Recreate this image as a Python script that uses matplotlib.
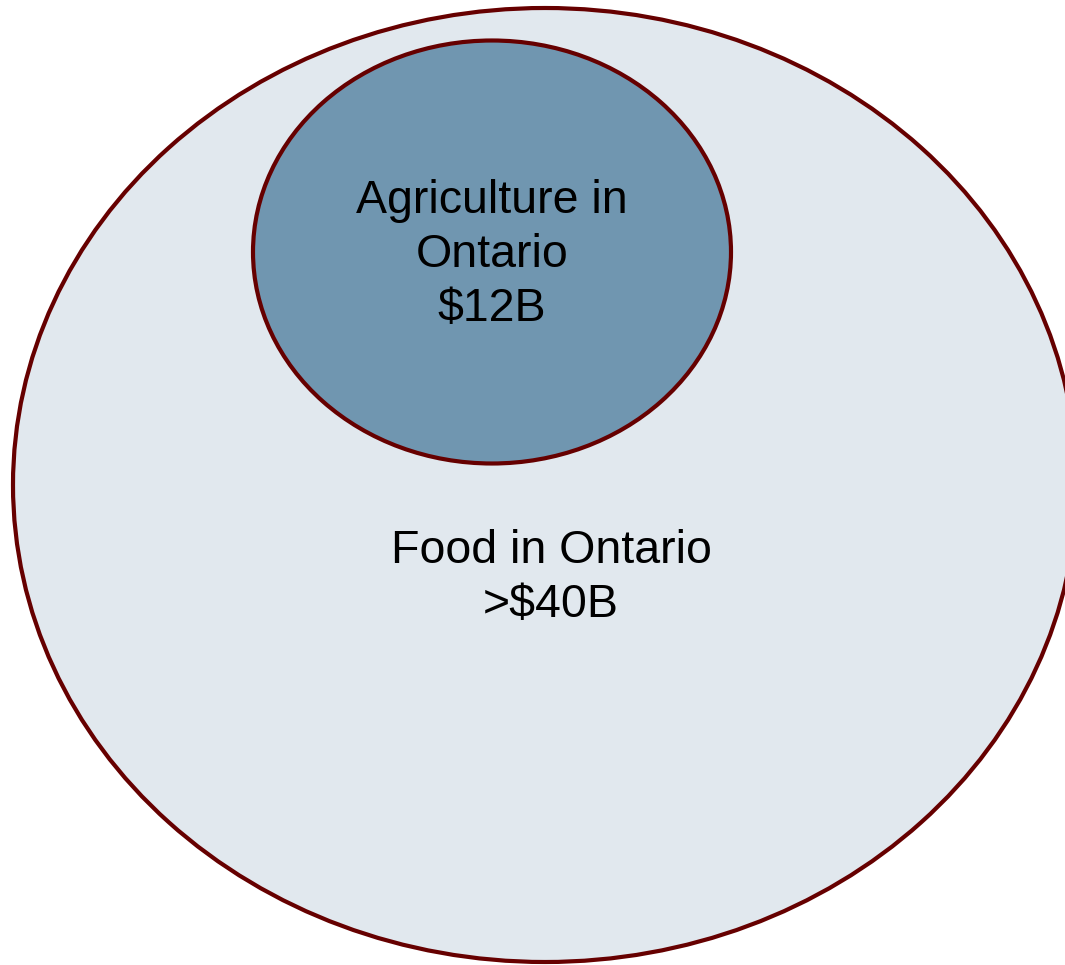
import matplotlib.pyplot as plt
from matplotlib.patches import Ellipse

plt.rcParams['font.family'] = ['Liberation Sans', 'DejaVu Sans']

# circles: label, centre (px), width/height (px), fill colour
labels = ['Food in Ontario\n>$40B', 'Agriculture in\nOntario\n$12B']
centres = [(545, 485), (492, 252)]
sizes = [(1064, 954), (478, 423)]
fills = ['#E1E8EE', '#7096B0']
label_pos = [(551, 578), (492, 255)]

edge = '#660000'

fig = plt.figure(figsize=(10.65, 9.65), dpi=100)
ax = fig.add_axes([0, 0, 1, 1])
ax.set_xlim(0, 1065)
ax.set_ylim(965, 0)
ax.axis('off')

for (cx, cy), (w, h), fc in zip(centres, sizes, fills):
    ax.add_patch(Ellipse((cx, cy), w, h, facecolor=fc, edgecolor=edge, lw=3))

for txt, (tx, ty) in zip(labels, label_pos):
    ax.text(tx, ty, txt, ha='center', va='center', fontsize=33.5,
            linespacing=1.3, color='black')

fig.savefig('out.png', dpi=100)
